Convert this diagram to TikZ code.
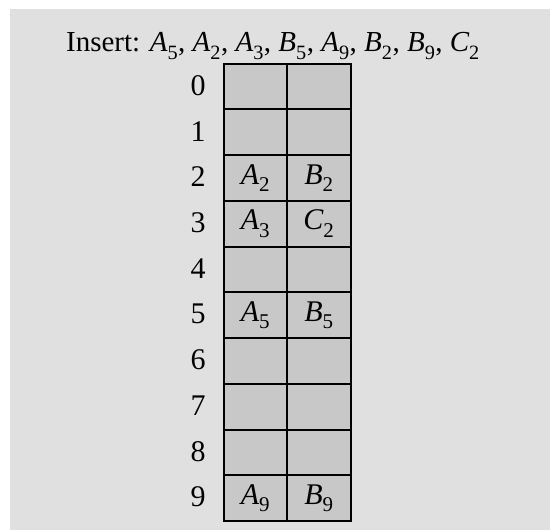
\documentclass[tikz,border=0pt]{standalone}
\usepackage{fontspec}
\setmainfont{Liberation Serif}
\usepackage{unicode-math}
\setmathfont{Latin Modern Math}
\setmathfont[range={it/{latin,Latin}}]{Liberation Serif Italic}
\setmathfont[range={up/num}]{Liberation Serif}
\definecolor{bgc}{RGB}{224,224,224}
\definecolor{cellc}{RGB}{200,200,200}
\begin{document}
\begin{tikzpicture}[x=1pt,y=-1pt,
  cell/.style={draw=black,line width=2pt,fill=cellc,minimum width=63.5pt,minimum height=45.7pt,inner sep=0pt,anchor=north west,font=\fontsize{30}{34}\selectfont},
  idx/.style={font=\fontsize{30}{34}\selectfont,anchor=center,inner sep=0pt}]
\useasboundingbox (0,0) rectangle (550,530);
\fill[bgc] (10,9) rectangle (550,530);
\node[font=\fontsize{29}{34}\selectfont,anchor=base] (title) at (273,52) {Insert: $A_5$, $A_2$, $A_3$, $B_5$, $A_9$, $B_2$, $B_9$, $C_2$};
\foreach \i/\a/\b in {0//,1//,2/$A_2$/$B_2$,3/$A_3$/$C_2$,4//,5/$A_5$/$B_5$,6//,7//,8//,9/$A_9$/$B_9$}{
  \node[cell] (l\i) at (222.7,62.7+45.73*\i) {\a};
  \node[cell] (r\i) at (286.2,62.7+45.73*\i) {\b};
  \node[idx] (n\i) at (198,62.7+45.73*\i+22.9) {\i};
}
\end{tikzpicture}
\end{document}
